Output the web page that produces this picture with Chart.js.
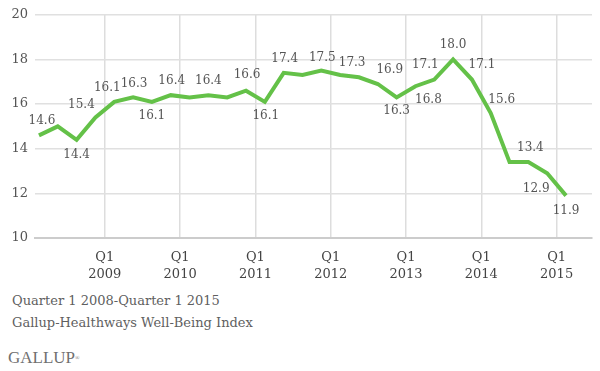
<!DOCTYPE html>
<html>
<head>
<meta charset="utf-8">
<script src="https://cdn.jsdelivr.net/npm/chart.js@4.4.0/dist/chart.umd.min.js"></script>
<style>
  html, body { margin: 0; padding: 0; background: #fff; }
  body { width: 600px; height: 371px; position: relative; overflow: hidden; font-family: "DejaVu Serif", serif; }
  #chartBox { position: absolute; left: 0; top: 0; width: 600px; height: 290px; }
  .note { position: absolute; left: 12px; color: #5f5f5f; font-size: 13px; line-height: 16px; white-space: nowrap; }
  #logo { position: absolute; left: 8px; top: 348px; color: #707070; font-family: "Liberation Serif", serif; font-size: 17px; line-height: 20px; }
  #logo sup { font-size: 6px; vertical-align: top; }
</style>
</head>
<body>
<div id="chartBox"><canvas id="wellBeingChart"></canvas></div>
<div class="note" style="top: 293px;">Quarter 1 2008-Quarter 1 2015</div>
<div class="note" style="top: 315px;">Gallup-Healthways Well-Being Index</div>
<div id="logo">GALLUP<sup>®</sup></div>

<script>
// Quarters Q1 2008 .. Q1 2015
const quarters = [
  "Q1 2008", "Q2 2008", "Q3 2008", "Q4 2008",
  "Q1 2009", "Q2 2009", "Q3 2009", "Q4 2009",
  "Q1 2010", "Q2 2010", "Q3 2010", "Q4 2010",
  "Q1 2011", "Q2 2011", "Q3 2011", "Q4 2011",
  "Q1 2012", "Q2 2012", "Q3 2012", "Q4 2012",
  "Q1 2013", "Q2 2013", "Q3 2013", "Q4 2013",
  "Q1 2014", "Q2 2014", "Q3 2014", "Q4 2014",
  "Q1 2015",
];

const wellBeing = [
  14.6, 15.0, 14.4, 15.4,
  16.1, 16.3, 16.1, 16.4,
  16.3, 16.4, 16.3, 16.6,
  16.1, 17.4, 17.3, 17.5,
  17.3, 17.2, 16.9, 16.3,
  16.8, 17.1, 18.0, 17.1,
  15.6, 13.4, 13.4, 12.9,
  11.9,
];

// points that carry a value label
const labeledPoints = [0, 2, 3, 4, 5, 6, 7, 9, 11, 12, 13, 15, 16, 18, 19, 20, 21, 22, 23, 24, 26, 27, 28];

// x-axis ticks sit between Q4 and Q1
const tickPositions = [3.5, 7.5, 11.5, 15.5, 19.5, 23.5, 27.5];
const tickYears = ["2009", "2010", "2011", "2012", "2013", "2014", "2015"];

const yMin = 10;
const yMax = 20;
const yStep = 2;

// label offsets from the point (px)
const labelOffsets = {
  0: [3, -14], 2: [0, 15], 3: [-14, -13], 4: [-7, -14], 5: [1, -14],
  6: [0, 14], 7: [1, -14], 9: [0, -14], 11: [1, -16], 12: [1, 14],
  13: [1, -14], 15: [1, -13], 16: [12, -12], 18: [12, -14], 19: [0, 13],
  20: [13, 14], 21: [-9, -15], 22: [0, -15], 23: [10, -15], 24: [11, -13],
  26: [2, -14], 27: [-11, 16], 28: [0, 15],
};

const valueLabels = {
  id: "valueLabels",
  afterDatasetsDraw(chart) {
    const ctx = chart.ctx;
    const meta = chart.getDatasetMeta(0);
    ctx.save();
    ctx.font = '12px "DejaVu Serif", serif';
    ctx.fillStyle = "#555";
    ctx.textAlign = "center";
    ctx.textBaseline = "middle";
    labeledPoints.forEach((i) => {
      const pt = meta.data[i];
      const off = labelOffsets[i] || [0, -14];
      ctx.fillText(wellBeing[i].toFixed(1), pt.x + off[0], pt.y + off[1]);
    });
    ctx.restore();
  },
};

const ctx = document.getElementById("wellBeingChart").getContext("2d");
new Chart(ctx, {
  type: "line",
  data: {
    datasets: [
      {
        label: "Well-Being Index",
        data: wellBeing.map((v, i) => ({ x: i, y: v, q: quarters[i] })),
        borderColor: "#64c148",
        borderWidth: 4,
        pointRadius: 0,
        tension: 0,
        fill: false,
      },
    ],
  },
  options: {
    responsive: true,
    maintainAspectRatio: false,
    animation: false,
    layout: { padding: { top: 14, right: 8, left: 0, bottom: 0 } },
    plugins: { legend: { display: false }, tooltip: { enabled: false } },
    scales: {
      x: {
        type: "linear",
        min: -0.21,
        max: 29.38,
        afterBuildTicks: (scale) => {
          scale.ticks = tickPositions.map((v) => ({ value: v }));
        },
        afterFit: (scale) => {
          scale.height = 52;
        },
        ticks: {
          padding: 11,
          autoSkip: false,
          maxRotation: 0,
          color: "#444",
          font: { family: "DejaVu Serif", size: 13, lineHeight: 1.3 },
          callback: (value) => {
            const k = tickPositions.indexOf(value);
            return k >= 0 ? ["Q1", tickYears[k]] : "";
          },
        },
        grid: { color: "#dddddd", lineWidth: 1.5, drawTicks: false },
        border: { display: true, color: "#cccccc", width: 2 },
      },
      y: {
        min: yMin,
        max: yMax,
        afterFit: (scale) => {
          scale.width = 35;
        },
        ticks: {
          stepSize: yStep,
          padding: 7,
          color: "#555",
          font: { family: "DejaVu Serif", size: 13 },
        },
        grid: { color: "#e0e0e0", lineWidth: 1.5, drawTicks: false },
        border: { display: false },
      },
    },
  },
  plugins: [valueLabels],
});
</script>
</body>
</html>
